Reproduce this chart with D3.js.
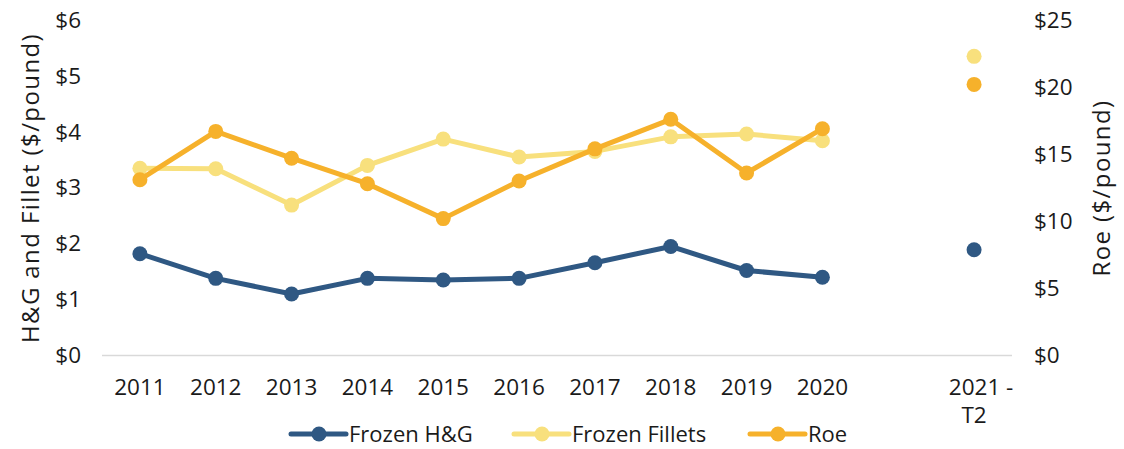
<!DOCTYPE html>
<html>
<head>
<meta charset="utf-8">
<script src="https://cdn.jsdelivr.net/npm/d3@7"></script>
<style>
  body { margin: 0; background: #fff; }
  text { font-family: "Open Sans", sans-serif; fill: #1a1a1a; }
</style>
</head>
<body>
<div id="chart"></div>
<script>
var svgWidth = 1124;
var svgHeight = 449;

// data
var categories = ["2011", "2012", "2013", "2014", "2015", "2016", "2017", "2018", "2019", "2020", "", "2021 - T2"];
var years = ["2011", "2012", "2013", "2014", "2015", "2016", "2017", "2018", "2019", "2020"];
var frozenHG = [1.82, 1.38, 1.10, 1.38, 1.35, 1.38, 1.66, 1.95, 1.52, 1.40];
var frozenFillets = [3.35, 3.34, 2.69, 3.40, 3.87, 3.55, 3.65, 3.91, 3.96, 3.84];
var roe = [13.1, 16.7, 14.7, 12.8, 10.2, 13.0, 15.4, 17.6, 13.6, 16.9];
var t2Label = "2021 - T2";
var t2Lines = ["2021 -", "T2"];
var t2HG = 1.89;
var t2Fillets = 5.35;
var t2Roe = 20.2;
var leftTicks = [0, 1, 2, 3, 4, 5, 6];
var rightTicks = [0, 5, 10, 15, 20, 25];

var colors = { hg: "#2f5883", fillets: "#f8e07d", roe: "#f6b12b" };

var svg = d3.select("#chart").append("svg")
  .attr("width", svgWidth)
  .attr("height", svgHeight);

var xScale = d3.scaleBand()
  .domain(categories.map(function(c, i) { return i; }))
  .range([102, 1012]);

function xPos(label) {
  return xScale(categories.indexOf(label)) + xScale.bandwidth() / 2;
}

var yLeft = d3.scaleLinear().domain([0, 6]).range([355.5, 20]);
var yRight = d3.scaleLinear().domain([0, 25]).range([355.5, 20]);

// baseline
svg.append("line")
  .attr("x1", 102).attr("x2", 1012)
  .attr("y1", yLeft(0)).attr("y2", yLeft(0))
  .attr("stroke", "#d9d9d9").attr("stroke-width", 1.5);

// left axis
var leftAxis = svg.append("g")
  .attr("transform", "translate(81,0)")
  .call(d3.axisLeft(yLeft).tickValues(leftTicks).tickSize(0).tickPadding(0).tickFormat(function(d) { return "$" + d; }));
leftAxis.select(".domain").remove();
leftAxis.selectAll("text").style("font-size", "22.5px").attr("fill", "#1a1a1a");

// right axis
var rightAxis = svg.append("g")
  .attr("transform", "translate(1034,0)")
  .call(d3.axisRight(yRight).tickValues(rightTicks).tickSize(0).tickPadding(0).tickFormat(function(d) { return "$" + d; }));
rightAxis.select(".domain").remove();
rightAxis.selectAll("text").style("font-size", "22.5px").attr("fill", "#1a1a1a");

// x labels
svg.selectAll(".xlab")
  .data(years)
  .enter().append("text")
  .attr("class", "xlab")
  .attr("x", function(d) { return xPos(d); })
  .attr("y", 395)
  .attr("text-anchor", "middle")
  .style("font-size", "22.5px")
  .text(function(d) { return d; });

// wrapped label for the last category
svg.selectAll(".t2lab")
  .data(t2Lines)
  .enter().append("text")
  .attr("class", "t2lab")
  .attr("x", function(d, i) { return xPos(t2Label) + (i === 0 ? 7 : 0); })
  .attr("y", function(d, i) { return 395 + i * 28; })
  .attr("text-anchor", "middle")
  .style("font-size", "22.5px")
  .text(function(d) { return d; });

// axis titles
svg.append("text")
  .attr("transform", "translate(39,188) rotate(-90)")
  .attr("text-anchor", "middle")
  .style("font-size", "24px")
  .style("letter-spacing", "1.4px")
  .text("H&G and Fillet ($/pound)");

svg.append("text")
  .attr("transform", "translate(1110,188) rotate(-90)")
  .attr("text-anchor", "middle")
  .style("font-size", "24px")
  .style("letter-spacing", "1.4px")
  .text("Roe ($/pound)");

// series
var series = [
  { key: "fillets", values: frozenFillets, y: yLeft, color: colors.fillets },
  { key: "roe", values: roe, y: yRight, color: colors.roe },
  { key: "hg", values: frozenHG, y: yLeft, color: colors.hg }
];

series.forEach(function(s) {
  var line = d3.line()
    .x(function(d, i) { return xPos(years[i]); })
    .y(function(d) { return s.y(d); });

  svg.append("path")
    .datum(s.values)
    .attr("d", line)
    .attr("fill", "none")
    .attr("stroke", s.color)
    .attr("stroke-width", 5)
    .attr("stroke-linejoin", "round");

  svg.selectAll(".pt-" + s.key)
    .data(s.values)
    .enter().append("circle")
    .attr("cx", function(d, i) { return xPos(years[i]); })
    .attr("cy", function(d) { return s.y(d); })
    .attr("r", 7.5)
    .attr("fill", s.color);
});

// 2021 - T2 single points
var t2Points = [
  { v: t2Fillets, y: yLeft, color: colors.fillets },
  { v: t2Roe, y: yRight, color: colors.roe },
  { v: t2HG, y: yLeft, color: colors.hg }
];
svg.selectAll(".t2pt")
  .data(t2Points)
  .enter().append("circle")
  .attr("cx", xPos(t2Label))
  .attr("cy", function(d) { return d.y(d.v); })
  .attr("r", 7.5)
  .attr("fill", function(d) { return d.color; });

// legend
var legendItems = [
  { name: "Frozen H&G", color: colors.hg, x: 291 },
  { name: "Frozen Fillets", color: colors.fillets, x: 514 },
  { name: "Roe", color: colors.roe, x: 750 }
];
var legend = svg.selectAll(".legend")
  .data(legendItems)
  .enter().append("g")
  .attr("transform", function(d) { return "translate(" + d.x + ",434)"; });
legend.append("line")
  .attr("x1", 0).attr("x2", 55)
  .attr("stroke", function(d) { return d.color; })
  .attr("stroke-width", 5)
  .attr("stroke-linecap", "round");
legend.append("circle")
  .attr("cx", 28).attr("r", 7.5)
  .attr("fill", function(d) { return d.color; });
legend.append("text")
  .attr("x", 58).attr("dy", "0.35em")
  .style("font-size", "22px")
  .text(function(d) { return d.name; });
</script>
</body>
</html>
